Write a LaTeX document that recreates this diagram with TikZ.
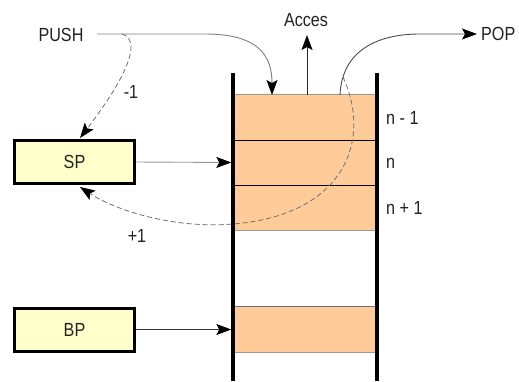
\documentclass[tikz,border=0pt]{standalone}
\usepackage{fontspec}
\setmainfont{Liberation Sans}
\newfontfamily\lblfont[FakeStretch=0.85]{Liberation Sans}
\usetikzlibrary{arrows.meta}
\definecolor{cellfill}{HTML}{FFCC99}
\definecolor{boxfill}{HTML}{FFFFCC}
\definecolor{lgray}{HTML}{999999}
\definecolor{mgray}{HTML}{707070}
\definecolor{txt}{HTML}{222222}
\begin{document}
\begin{tikzpicture}[x=1pt,y=-1pt,
  lbl/.style={font=\lblfont\fontsize{19}{22}\selectfont, text=txt, inner sep=0pt},
  reg/.style={draw=black, line width=3pt, fill=boxfill, minimum width=120pt,
    minimum height=43pt, font=\lblfont\fontsize{19}{22}\selectfont, text=txt, inner sep=0pt},
  cell/.style={fill=cellfill, minimum width=144pt, minimum height=45pt,
    inner sep=0pt, draw=none},
  tip/.style={-{Stealth[length=15pt,width=11pt,inset=3pt,color=black]}},
  wall/.style={line width=3.5pt, black},
  dashcurve/.style={mgray, line width=0.8pt, dash pattern=on 5pt off 3pt},
  thin/.style={line width=0.9pt}
  ]
\useasboundingbox (0,0) rectangle (519,381);

% cells
\node[cell] (c1) at (305,117.5) {};
\node[cell] (c2) at (305,162.5) {};
\node[cell] (c3) at (305,207.5) {};
\node[cell] (c5) at (305,329.5) {};
\draw[lgray, thin] (c1.north west) -- (c1.north east);
\draw[black, thin] (c1.south west) -- (c1.south east);
\draw[black, thin] (c2.south west) -- (c2.south east);
\draw[lgray, thin] (c3.south west) -- (c3.south east);
\draw[mgray, thin] (c5.north west) -- (c5.north east);
\draw[lgray, thin] (c5.south west) -- (c5.south east);

% registers
\node[reg] (sp) at (74.5,162) {SP};
\node[reg] (bp) at (74.5,329.5) {BP};

% labels
\node[lbl] (push) at (61,34.5) {PUSH};
\node[lbl] (acces) at (306,20) {Acces};
\node[lbl, anchor=west] (pop) at (481,34) {POP};
\node[lbl, anchor=west] (l1) at (386,118) {n - 1};
\node[lbl, anchor=west] (l2) at (386,163) {n};
\node[lbl, anchor=west] (l3) at (386,208) {n + 1};
\node[lbl] (m1) at (131,92) {-1};
\node[lbl] (p1) at (137,236) {+1};

% coordinates
\coordinate (pushstart) at (97,34);
\coordinate (pushin) at (272,95);
\coordinate (acc0) at (307,95);
\coordinate (acc1) at (307,35);
\coordinate (pop0) at (340,95);
\coordinate (popend) at (477,34);
\coordinate (pd0) at (122,34);
\coordinate (pdend) at (80,138);
\coordinate (d0) at (343,77);
\coordinate (d1) at (233,224);
\coordinate (dend) at (80,187);
\coordinate (wlt) at (233,73);
\coordinate (wlb) at (233,381);
\coordinate (wrt) at (377,73);
\coordinate (wrb) at (377,381);

% connectors
\draw[tip, lgray, thin, shorten >=1.5pt] (sp.east) -- (c2.west);
\draw[tip, black!80, thin, shorten >=1.5pt] (bp.east) -- (c5.west);
\draw[tip, gray, thin] (pushstart) -- (205,34) .. controls (258,34) and (272,55) .. (pushin);
\draw[tip, black!85, thin] (acc0) -- (acc1);
\draw[tip, black!70, thin] (pop0) .. controls (342,50) and (378,34) .. (420,34) -- (popend);
\draw[tip, dashcurve] (pd0) .. controls (142,40) and (128,75) .. (pdend);
\draw[tip, dashcurve] (d0) .. controls (372,140) and (345,215) .. (d1)
  .. controls (173,229) and (115,210) .. (dend);

% walls
\draw[wall] (wlt) -- (wlb);
\draw[wall] (wrt) -- (wrb);
\end{tikzpicture}
\end{document}
